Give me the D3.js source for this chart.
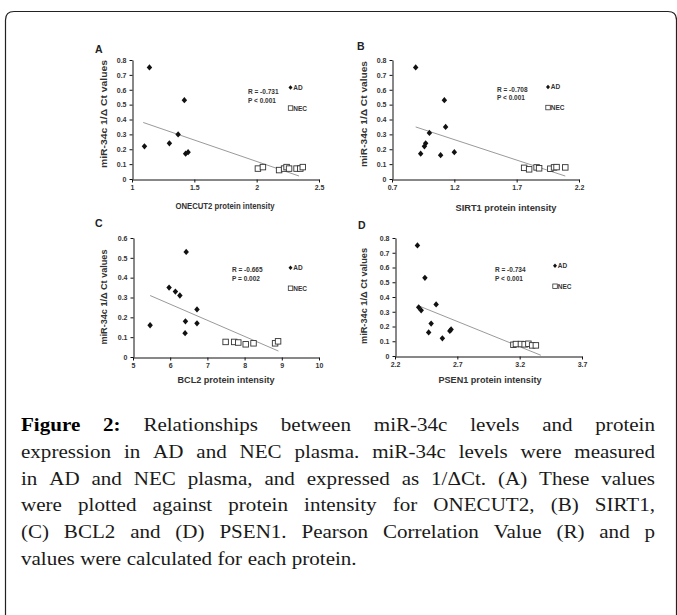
<!DOCTYPE html>
<html>
<head>
<meta charset="utf-8">
<script src="https://cdn.jsdelivr.net/npm/d3@7"></script>
<style>
    html, body { margin: 0; padding: 0; background: #fff; }
    svg { display: block; }
</style>
</head>
<body>
<svg id="figure"></svg>
<script>

/*
*   Values (one entry per panel A, B, C, D)
*/

const PANEL_LETTERS = ['A', 'B', 'C', 'D']
const PROTEINS = ['ONECUT2', 'SIRT1', 'BCL2', 'PSEN1']
const R_LABELS = ['R = -0.731', 'R = -0.708', 'R = -0.665', 'R = -0.734']
const P_LABELS = ['P < 0.001', 'P < 0.001', 'P = 0.002', 'P < 0.001']
const GROUPS = ['AD', 'NEC']

const X_DOMAINS = [[1, 2.5], [0.7, 2.2], [5, 10], [2.2, 3.7]]
const X_TICKS = [
    [1, 1.5, 2, 2.5],
    [0.7, 1.2, 1.7, 2.2],
    [5, 6, 7, 8, 9, 10],
    [2.2, 2.7, 3.2, 3.7],
]
const Y_TICKS = [
    [0, 0.1, 0.2, 0.3, 0.4, 0.5, 0.6, 0.7, 0.8],
    [0, 0.1, 0.2, 0.3, 0.4, 0.5, 0.6, 0.7, 0.8],
    [0, 0.1, 0.2, 0.3, 0.4, 0.5, 0.6],
    [0, 0.1, 0.2, 0.3, 0.4, 0.5, 0.6, 0.7, 0.8],
]

const AD_X = [
    [1.10, 1.14, 1.30, 1.37, 1.42, 1.43, 1.45],
    [0.89, 0.93, 0.96, 0.97, 1.00, 1.09, 1.12, 1.13, 1.20],
    [5.46, 5.97, 6.14, 6.26, 6.40, 6.41, 6.43, 6.72, 6.72],
    [2.38, 2.39, 2.41, 2.44, 2.47, 2.49, 2.53, 2.58, 2.64, 2.65],
]
const AD_Y = [
    [0.22, 0.75, 0.24, 0.30, 0.53, 0.17, 0.18],
    [0.75, 0.17, 0.22, 0.24, 0.31, 0.16, 0.53, 0.35, 0.18],
    [0.16, 0.35, 0.33, 0.31, 0.12, 0.18, 0.53, 0.24, 0.17],
    [0.75, 0.33, 0.31, 0.53, 0.16, 0.22, 0.35, 0.12, 0.17, 0.18],
]

const NEC_X = [
    [2.01, 2.05, 2.18, 2.22, 2.24, 2.26, 2.32, 2.35, 2.37],
    [1.76, 1.80, 1.86, 1.88, 1.97, 2.00, 2.02, 2.09],
    [7.49, 7.72, 7.83, 8.03, 8.24, 8.82, 8.90],
    [3.15, 3.17, 3.21, 3.24, 3.27, 3.30, 3.33],
]
const NEC_Y = [
    [0.07, 0.08, 0.06, 0.07, 0.08, 0.07, 0.07, 0.07, 0.08],
    [0.075, 0.065, 0.078, 0.072, 0.069, 0.078, 0.08, 0.078],
    [0.076, 0.076, 0.073, 0.064, 0.069, 0.069, 0.079],
    [0.076, 0.081, 0.081, 0.079, 0.083, 0.072, 0.072],
]

// fitted line end points, as drawn
const TREND_X = [[1.09, 2.34], [0.89, 2.09], [5.46, 8.91], [2.39, 3.37]]
const TREND_Y = [[0.38, 0.02], [0.35, 0.02], [0.31, 0.03], [0.34, 0.005]]

const CAPTION_LINES = [
    'Figure 2: Relationships between miR-34c levels and protein',
    'expression in AD and NEC plasma. miR-34c levels were measured',
    'in AD and NEC plasma, and expressed as 1/ΔCt. (A) These values',
    'were plotted against protein intensity for ONECUT2, (B) SIRT1,',
    '(C) BCL2 and (D) PSEN1. Pearson Correlation Value (R) and p',
    'values were calculated for each protein.',
]


/*
*   Layout
*/

const WIDTH = 677
const HEIGHT = 615
const SANS = '"Liberation Sans", Arial, sans-serif'
const SERIF = '"Liberation Serif", "Times New Roman", serif'

const LAYOUT = [
    { left: 132, right: 319, top: 60, bottom: 179, letter: [95, 53],
      yTitle: [104, 114, 108], xTitle: [225, 208.5, 99],
      stats: [248, 94.3], legend: [290.5, 87.5] },
    { left: 392, right: 579, top: 60, bottom: 179, letter: [357, 50],
      yTitle: [364, 114, 106], xTitle: [506, 210.5, 101],
      stats: [497, 91.6], legend: [548, 87] },
    { left: 133, right: 319, top: 238, bottom: 357, letter: [95, 227],
      yTitle: [103.5, 297, 95], xTitle: [226, 383, 97],
      stats: [232, 272.3], legend: [290.5, 267.7] },
    { left: 395, right: 582, top: 238, bottom: 356, letter: [358, 229],
      yTitle: [363.5, 296, 96], xTitle: [490, 383, 103],
      stats: [495, 272], legend: [555, 265.7] },
]


/*
*   Marker shapes
*/

const diamond = {
    draw(ctx, size) {
        const w = Math.sqrt(size) * 0.5
        const h = w * 1.15
        ctx.moveTo(0, -h)
        ctx.lineTo(w, 0)
        ctx.lineTo(0, h)
        ctx.lineTo(-w, 0)
        ctx.closePath()
    }
}


/*
*   Draws one scatter panel.
*/

const drawPanel = (svg, i) => {

    const L = LAYOUT[i]
    const g = svg.append('g')

    const x = d3.scaleLinear().domain(X_DOMAINS[i]).range([L.left, L.right])
    const yMax = Y_TICKS[i][Y_TICKS[i].length - 1]
    const y = d3.scaleLinear().domain([0, yMax]).range([L.bottom, L.top])

    // axes
    const yAxis = g.append('g')
    .attr('transform', `translate(${L.left + 0.5},0)`)
    .call(d3.axisLeft(y).tickValues(Y_TICKS[i]).tickFormat(d => d === 0 ? '0' : d3.format('.1f')(d))
        .tickSize(3).tickSizeOuter(0).tickPadding(3))

    const xAxis = g.append('g')
    .attr('transform', `translate(0,${L.bottom + 0.5})`)
    .call(d3.axisBottom(x).tickValues(X_TICKS[i]).tickFormat(d => String(d))
        .tickSize(3).tickSizeOuter(0).tickPadding(3))

    ;[xAxis, yAxis].forEach(a => {
        a.selectAll('path, line').attr('stroke', '#111').attr('stroke-width', 1)
        a.selectAll('text')
        .attr('fill', '#333')
        .style('font-family', SANS)
        .style('font-size', '7px')
        .style('font-weight', 'bold')
    })

    // trend line
    g.append('line')
    .attr('x1', x(TREND_X[i][0]))
    .attr('y1', y(TREND_Y[i][0]))
    .attr('x2', x(TREND_X[i][1]))
    .attr('y2', y(TREND_Y[i][1]))
    .attr('stroke', '#9a9a9a')
    .attr('stroke-width', 1)

    // NEC squares
    const nec = NEC_X[i].map((v, k) => ({ x: v, y: NEC_Y[i][k] }))
    g.selectAll('rect.nec')
    .data(nec)
    .join('rect')
    .attr('class', 'nec')
    .attr('x', d => x(d.x) - 2.75)
    .attr('y', d => y(d.y) - 2.75)
    .attr('width', 5.5)
    .attr('height', 5.5)
    .attr('fill', '#fff')
    .attr('stroke', '#333')
    .attr('stroke-width', 0.9)

    // AD diamonds
    const ad = AD_X[i].map((v, k) => ({ x: v, y: AD_Y[i][k] }))
    g.selectAll('path.ad')
    .data(ad)
    .join('path')
    .attr('class', 'ad')
    .attr('d', d3.symbol(diamond, 30))
    .attr('transform', d => `translate(${x(d.x)},${y(d.y)})`)
    .attr('fill', '#111')

    // panel letter
    g.append('text')
    .attr('x', L.letter[0])
    .attr('y', L.letter[1])
    .text(PANEL_LETTERS[i])
    .style('font-family', SANS)
    .style('font-size', '10.5px')
    .style('font-weight', 'bold')
    .attr('fill', '#222')

    // axis titles
    g.append('text')
    .attr('transform', `translate(${L.yTitle[0] + 3},${L.yTitle[1]}) rotate(-90)`)
    .attr('text-anchor', 'middle')
    .attr('textLength', L.yTitle[2])
    .attr('lengthAdjust', 'spacingAndGlyphs')
    .text('miR-34c 1/Δ Ct values')
    .style('font-family', SANS)
    .style('font-size', '8.5px')
    .style('font-weight', 'bold')
    .attr('fill', '#333')

    g.append('text')
    .attr('x', L.xTitle[0])
    .attr('y', L.xTitle[1])
    .attr('text-anchor', 'middle')
    .attr('textLength', L.xTitle[2])
    .attr('lengthAdjust', 'spacingAndGlyphs')
    .text(`${PROTEINS[i]} protein intensity`)
    .style('font-family', SANS)
    .style('font-size', '8.5px')
    .style('font-weight', 'bold')
    .attr('fill', '#333')

    // statistics
    g.selectAll('text.stat')
    .data([R_LABELS[i], P_LABELS[i]])
    .join('text')
    .attr('class', 'stat')
    .attr('x', L.stats[0])
    .attr('y', (d, k) => L.stats[1] + k * 8.8)
    .text(d => d)
    .style('font-family', SANS)
    .style('font-size', '6.5px')
    .style('font-weight', 'bold')
    .attr('fill', '#333')

    // legend
    const lg = g.append('g').attr('transform', `translate(${L.legend[0]},${L.legend[1]})`)
    lg.append('path')
    .attr('d', d3.symbol(diamond, 16))
    .attr('fill', '#111')
    lg.append('rect')
    .attr('x', -2.2).attr('y', 18.3)
    .attr('width', 4.5).attr('height', 4.5)
    .attr('fill', '#fff').attr('stroke', '#333').attr('stroke-width', 0.8)
    lg.selectAll('text')
    .data(GROUPS)
    .join('text')
    .attr('x', 2.8)
    .attr('y', (d, k) => 2.4 + k * 20.6)
    .text(d => d)
    .style('font-family', SANS)
    .style('font-size', '6.5px')
    .style('font-weight', 'bold')
    .attr('fill', '#333')
}


/*
*   Writes the justified caption. Words are widened a little so the
*   Times-like face sets as wide as the original book face.
*/

const drawCaption = svg => {

    const LEFT = 21
    const RIGHT = 655
    const FIRST_BASELINE = 431
    const LINE_STEP = 26.8
    const WIDEN = 1.08

    const g = svg.append('g')
    .style('font-family', SERIF)
    .style('font-size', '19.5px')

    CAPTION_LINES.forEach((line, li) => {
        const baseline = FIRST_BASELINE + li * LINE_STEP
        const words = line.split(' ').map((w, k) => ({ text: w, bold: li === 0 && k < 2 }))
        const nodes = words.map(w => g.append('text')
            .text(w.text)
            .attr('fill', w.bold ? '#000' : '#1a1a1a')
            .style('font-weight', w.bold ? 'bold' : 'normal'))
        const widths = nodes.map(n => n.node().getComputedTextLength() * WIDEN)
        const total = d3.sum(widths)
        const last = li === CAPTION_LINES.length - 1
        const gap = last ? 5.5 : (RIGHT - LEFT - total) / (words.length - 1)
        let cx = LEFT
        nodes.forEach((n, k) => {
            n.attr('transform', `translate(${cx},${baseline}) scale(${WIDEN},1)`)
            cx += widths[k] + gap
        })
    })
}


/*
*   Execution entry point.
*/

const svg = d3.select('#figure')
.attr('width', WIDTH)
.attr('height', HEIGHT)

// outer frame, its right and bottom sides fall outside the picture
svg.append('path')
.attr('d', 'M5.5,640 V20 Q5.5,11.5 14,11.5 H668 Q676.5,11.5 676.5,20 V640')
.attr('fill', 'none')
.attr('stroke', '#222')
.attr('stroke-width', 1.2)

PANEL_LETTERS.forEach((p, i) => drawPanel(svg, i))
drawCaption(svg)

</script>
</body>
</html>
